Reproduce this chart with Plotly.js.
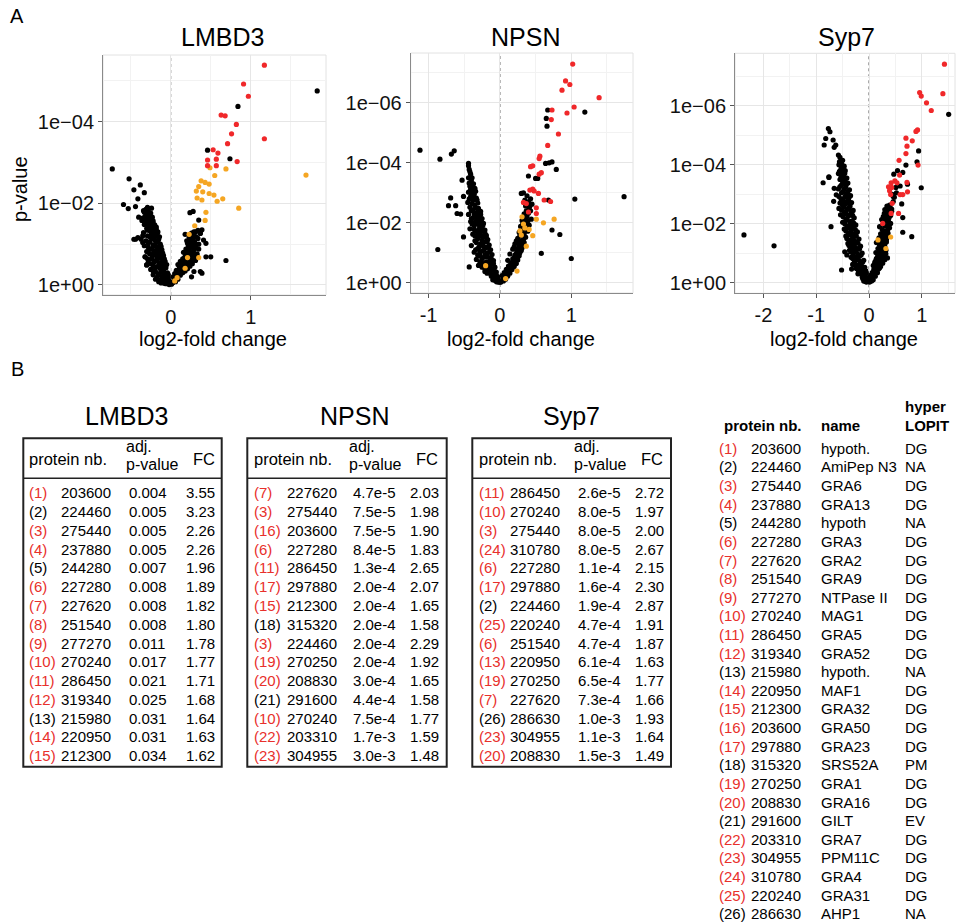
<!DOCTYPE html>
<html>
<head>
<meta charset="utf-8">
<script src="https://cdn.plot.ly/plotly-3.0.1.min.js"></script>
<style>html,body{margin:0;padding:0;background:#fff;}#chart{width:956px;height:923px;}</style>
</head>
<body>
<div id="chart"></div>
<script>
// ---------------- DATA: volcano plots (log2 fold change, -log10 p-value) ----------------
const lmbd3Red = [[1.17,5.38],[0.91,4.92],[0.97,4.62],[0.63,4.16],[0.68,4.14],[0.82,3.93],[0.76,3.70],[1.17,3.58],[0.71,3.46],[0.53,3.31],[0.59,3.23],[0.46,3.06],[0.57,3.08],[0.83,3.02],[0.46,2.92],[0.57,2.92]];
const lmbd3Orange = [[0.49,2.87],[0.69,2.84],[1.69,2.69],[0.55,2.68],[0.38,2.55],[0.43,2.51],[0.48,2.47],[0.35,2.41],[0.32,2.30],[0.40,2.28],[0.48,2.24],[0.33,2.13],[0.39,2.08],[0.54,2.20],[0.58,2.05],[0.65,2.11],[0.85,1.88],[0.44,1.78],[0.43,1.58],[0.30,1.45],[0.23,1.24],[0.21,0.67],[0.35,0.67],[0.18,0.41],[0.08,0.18],[0.05,0.10]];
const lmbd3Black = [[-0.73,2.84],[-0.52,2.60],[-0.46,2.33],[-0.38,2.45],[-0.33,2.26],[-0.41,2.11],[-0.59,1.97],[-0.53,1.87],[-0.44,1.92],[-0.46,1.12],[-0.32,0.69],[-0.30,0.49],[-0.40,1.66],[-0.36,1.58],[1.83,4.75],[0.84,4.37],[0.46,3.30],[0.74,3.09],[0.69,0.60],[0.44,0.69],[0.50,0.69],[0.24,1.77],[0.28,1.80],[0.35,1.59],[0.37,1.27],[0.41,1.10],[0.29,1.18],[0.39,0.29],[0.29,0.33],[0.44,1.02],[0.39,1.35],[0.37,0.33],[0.26,0.20],
[-0.31,1.85],[-0.28,1.80],[-0.30,1.75],[-0.26,1.72],[-0.32,1.68],[-0.27,1.65],[-0.24,1.62],[-0.30,1.60],[-0.22,1.57],[-0.28,1.55],[-0.25,1.50],[-0.33,1.48],[-0.20,1.47],[-0.27,1.44],[-0.23,1.40],[-0.30,1.38],[-0.18,1.36],[-0.26,1.33],[-0.21,1.30],[-0.34,1.28],[-0.24,1.25],[-0.17,1.24],[-0.29,1.20],[-0.20,1.18],[-0.37,1.12],[-0.44,1.12],[-0.23,1.14],[-0.15,1.12],[-0.31,1.08],[-0.26,1.06],[-0.18,1.04],[-0.13,1.00],[-0.22,0.98],[-0.33,0.96],[-0.28,0.93],[-0.16,0.92],[-0.24,0.88],[-0.11,0.86],[-0.19,0.84],[-0.30,0.82],[-0.14,0.80],[-0.26,0.76],[-0.21,0.74],[-0.09,0.72],[-0.17,0.70],[-0.32,0.69],[-0.12,0.66],[-0.24,0.64],[-0.19,0.60],[-0.07,0.58],[-0.28,0.56],[-0.15,0.55],[-0.10,0.50],[-0.22,0.48],[-0.30,0.49],[-0.17,0.45],[-0.06,0.42],[-0.13,0.40],[-0.25,0.38],[-0.09,0.35],[-0.19,0.33],[-0.04,0.30],[-0.14,0.28],[-0.22,0.25],[-0.08,0.24],[-0.11,0.20],[-0.17,0.18],[-0.03,0.18],[-0.06,0.14],[-0.13,0.12],[-0.02,0.10],[-0.09,0.08],[-0.04,0.05],[-0.01,0.03],[-0.06,0.03],[-0.15,0.08],[-0.34,1.82],[-0.24,1.88],
[-0.29,1.90],[-0.33,1.78],[-0.25,1.76],[-0.29,1.70],[-0.35,1.64],[-0.23,1.66],[-0.31,1.56],[-0.26,1.58],[-0.22,1.52],[-0.31,1.50],[-0.18,1.42],[-0.25,1.46],[-0.29,1.34],[-0.16,1.30],[-0.22,1.27],[-0.35,1.20],[-0.26,1.18],[-0.14,1.18],[-0.20,1.10],[-0.28,1.02],[-0.16,1.06],[-0.35,1.04],[-0.41,1.16],[-0.20,0.95],[-0.12,0.94],[-0.27,0.88],[-0.14,0.86],[-0.21,0.82],[-0.10,0.78],[-0.28,0.80],[-0.16,0.74],[-0.23,0.70],[-0.13,0.70],[-0.29,0.64],[-0.08,0.64],[-0.17,0.62],[-0.21,0.56],[-0.11,0.56],[-0.26,0.52],[-0.05,0.50],[-0.14,0.50],[-0.19,0.42],[-0.10,0.40],[-0.22,0.34],[-0.12,0.32],[-0.03,0.25],[-0.16,0.24],[-0.07,0.18],[-0.19,0.14],[-0.10,0.14],[-0.04,0.10],[-0.08,0.04],[-0.12,0.05],[-0.02,0.01],
[0.02,0.05],[0.04,0.10],[0.06,0.16],[0.03,0.20],[0.08,0.22],[0.05,0.28],[0.10,0.30],[0.13,0.34],[0.07,0.36],[0.16,0.38],[0.11,0.42],[0.19,0.44],[0.14,0.48],[0.09,0.50],[0.22,0.50],[0.17,0.54],[0.12,0.58],[0.25,0.56],[0.20,0.60],[0.15,0.64],[0.28,0.62],[0.23,0.67],[0.18,0.70],[0.30,0.71],[0.26,0.74],[0.21,0.78],[0.33,0.76],[0.16,0.80],[0.24,0.83],[0.29,0.86],[0.19,0.88],[0.35,0.88],[0.27,0.93],[0.22,0.96],[0.32,0.98],[0.25,1.03],[0.30,1.06],[0.20,1.08],[0.27,1.12],[0.34,1.14],[0.23,1.17],[0.29,1.21],[0.18,1.24],[0.26,1.27],[0.31,1.30],[0.37,1.26],
[0.01,0.02],[0.03,0.07],[0.06,0.08],[0.09,0.14],[0.05,0.19],[0.12,0.24],[0.08,0.28],[0.15,0.30],[0.18,0.34],[0.11,0.36],[0.21,0.40],[0.15,0.44],[0.24,0.46],[0.19,0.50],[0.27,0.52],[0.13,0.54],[0.23,0.58],[0.31,0.60],[0.17,0.66],[0.27,0.68],[0.21,0.72],[0.33,0.70],[0.28,0.80],[0.23,0.86],[0.31,0.90],[0.26,0.98],[0.35,1.00],[0.21,1.02],[0.29,1.02],[0.24,1.10],[0.32,1.18],[0.25,1.22],[0.29,1.30],[0.34,1.34]];

const npsnRed = [[1.02,7.29],[0.92,6.73],[0.98,6.61],[0.87,6.42],[1.39,6.17],[1.04,5.86],[0.73,5.76],[0.94,5.66],[0.72,5.44],[0.82,4.96],[0.67,4.58],[0.56,4.22],[0.55,4.14],[0.46,3.90],[0.43,3.87],[0.58,3.67],[0.55,3.62],[0.46,3.12],[0.48,3.06],[0.42,3.09],[0.33,2.68],[0.51,2.50],[0.71,2.71],[0.40,2.36],[0.51,2.31],[0.62,2.76],[0.54,2.98],[0.37,2.64]];
const npsnOrange = [[0.51,2.12],[0.61,2.00],[0.76,2.12],[0.31,2.20],[0.33,1.96],[0.41,1.78],[0.46,1.57],[0.37,1.22],[0.30,1.59],[-0.20,0.57],[0.08,0.14],[0.24,0.39],[0.35,1.83],[0.28,1.73]];
const npsnBlack = [[-1.12,4.42],[-0.84,4.12],[-0.68,4.29],[-0.64,4.40],[-0.44,3.98],[-0.44,3.90],[-0.53,3.42],[-0.69,2.83],[-0.51,2.88],[-0.72,2.57],[-0.62,2.57],[-0.60,2.31],[-0.55,2.29],[-0.87,1.11],[-0.43,0.53],[-0.51,1.53],[1.19,5.69],[0.67,5.76],[0.65,5.48],[0.66,5.22],[0.73,4.03],[0.69,4.00],[0.79,3.78],[0.64,3.98],[0.40,3.56],[0.53,3.48],[0.50,3.48],[1.74,2.87],[1.05,2.79],[0.68,2.76],[0.33,3.00],[0.73,1.76],[0.84,1.61],[0.58,0.98],[1.00,0.81],[0.38,2.64],[0.30,2.98],
[-0.43,3.78],[-0.41,3.62],[-0.44,3.50],[-0.40,3.40],[-0.37,3.30],[-0.42,3.22],[-0.35,3.15],[-0.39,3.08],[-0.44,3.02],[-0.36,2.95],[-0.41,2.88],[-0.33,2.82],[-0.38,2.74],[-0.45,2.68],[-0.31,2.66],[-0.35,2.58],[-0.42,2.52],[-0.30,2.48],[-0.38,2.43],[-0.27,2.38],[-0.34,2.33],[-0.44,2.28],[-0.29,2.24],[-0.37,2.18],[-0.25,2.14],[-0.32,2.08],[-0.41,2.04],[-0.23,1.98],[-0.30,1.94],[-0.36,1.90],[-0.26,1.85],[-0.42,1.80],[-0.21,1.76],[-0.33,1.72],[-0.28,1.66],[-0.38,1.62],[-0.19,1.58],[-0.24,1.54],[-0.31,1.48],[-0.17,1.44],[-0.35,1.40],[-0.22,1.36],[-0.27,1.30],[-0.15,1.26],[-0.40,1.24],[-0.20,1.18],[-0.31,1.14],[-0.13,1.10],[-0.25,1.06],[-0.36,1.02],[-0.18,0.98],[-0.11,0.94],[-0.28,0.90],[-0.22,0.86],[-0.14,0.82],[-0.33,0.78],[-0.09,0.74],[-0.19,0.70],[-0.25,0.66],[-0.12,0.62],[-0.30,0.58],[-0.16,0.55],[-0.07,0.52],[-0.21,0.48],[-0.10,0.44],[-0.14,0.38],[-0.05,0.36],[-0.18,0.32],[-0.08,0.28],[-0.12,0.22],[-0.03,0.20],[-0.06,0.14],[-0.10,0.10],[-0.02,0.07],[-0.04,0.03],
[-0.42,3.70],[-0.39,3.50],[-0.43,3.32],[-0.38,3.20],[-0.41,3.12],[-0.34,3.05],[-0.40,2.98],[-0.37,2.86],[-0.43,2.80],[-0.32,2.76],[-0.39,2.64],[-0.34,2.50],[-0.40,2.40],[-0.31,2.36],[-0.36,2.28],[-0.27,2.28],[-0.33,2.20],[-0.40,2.14],[-0.29,2.12],[-0.35,2.02],[-0.26,2.04],[-0.32,1.98],[-0.39,1.96],[-0.24,1.90],[-0.29,1.80],[-0.36,1.78],[-0.24,1.72],[-0.31,1.64],[-0.21,1.66],[-0.35,1.56],[-0.27,1.58],[-0.19,1.50],[-0.25,1.42],[-0.33,1.34],[-0.18,1.36],[-0.24,1.24],[-0.29,1.20],[-0.16,1.18],[-0.22,1.10],[-0.34,1.10],[-0.28,1.02],[-0.15,1.02],[-0.21,0.94],[-0.31,0.92],[-0.25,0.80],[-0.17,0.86],[-0.12,0.80],[-0.28,0.70],[-0.14,0.70],[-0.22,0.62],[-0.09,0.64],[-0.19,0.54],[-0.13,0.50],[-0.25,0.52],[-0.16,0.44],[-0.08,0.40],[-0.13,0.30],[-0.21,0.38],[-0.10,0.24],[-0.05,0.26],[-0.08,0.16],[-0.03,0.12],[-0.06,0.06],[-0.01,0.02],
[0.02,0.05],[0.04,0.12],[0.07,0.18],[0.03,0.24],[0.10,0.28],[0.06,0.34],[0.13,0.38],[0.09,0.45],[0.16,0.50],[0.12,0.56],[0.19,0.60],[0.15,0.66],[0.22,0.72],[0.11,0.75],[0.18,0.80],[0.25,0.85],[0.21,0.92],[0.14,0.96],[0.28,1.00],[0.24,1.06],[0.18,1.12],[0.31,1.16],[0.27,1.22],[0.21,1.30],[0.34,1.34],[0.29,1.40],[0.25,1.48],[0.36,1.52],[0.31,1.60],[0.27,1.68],[0.39,1.72],[0.33,1.80],[0.29,1.88],[0.41,1.92],[0.36,2.00],[0.31,2.08],[0.44,2.12],[0.38,2.20],[0.34,2.30],[0.43,2.40],[0.41,2.48],[0.36,2.56],[0.45,2.62],[0.43,2.80],[0.38,2.90],
[0.01,0.02],[0.05,0.06],[0.08,0.12],[0.05,0.18],[0.11,0.22],[0.08,0.30],[0.14,0.32],[0.11,0.40],[0.17,0.44],[0.13,0.50],[0.20,0.54],[0.16,0.60],[0.23,0.64],[0.18,0.72],[0.25,0.76],[0.20,0.84],[0.27,0.90],[0.23,0.98],[0.30,1.08],[0.25,1.14],[0.20,1.20],[0.32,1.26],[0.27,1.32],[0.23,1.40],[0.33,1.44],[0.28,1.56],[0.34,1.64],[0.30,1.74],[0.36,1.84],[0.32,1.96],[0.39,2.06],[0.35,2.14],[0.40,2.32],[0.37,2.40],[0.42,2.56],[0.40,2.70],[0.35,2.76]];

const syp7Red = [[1.43,7.41],[0.96,6.45],[0.99,6.33],[1.40,6.41],[1.09,6.10],[1.18,5.84],[0.92,5.18],[0.89,5.13],[0.70,4.90],[0.82,4.81],[0.72,4.63],[0.70,4.38],[0.57,4.15],[0.93,3.99],[0.58,3.65],[0.49,3.45],[0.53,3.39],[0.42,3.39],[0.37,3.25],[0.72,3.40],[0.43,3.23],[0.73,3.08],[0.39,3.12],[0.41,2.99],[0.59,2.99],[0.64,2.99],[0.44,2.69],[0.56,2.35],[0.42,2.35],[0.26,2.01]];
const syp7Orange = [[0.17,1.45],[0.41,1.55],[0.32,1.16]];
const syp7Black = [[-2.37,1.62],[-1.80,1.25],[1.51,5.71],[0.94,4.47],[0.91,4.10],[0.70,3.99],[0.64,3.74],[0.54,3.80],[0.47,3.68],[0.73,3.34],[0.59,3.28],[0.51,3.23],[0.99,3.22],[0.46,2.92],[0.62,2.67],[0.34,2.60],[0.39,2.63],[0.29,2.35],[0.34,2.26],[0.43,2.42],[0.64,2.21],[0.30,2.10],[0.41,2.01],[0.27,1.99],[0.64,1.71],[0.81,1.56],[-0.72,1.90],[-0.87,3.39],[-0.76,3.57],[-0.77,5.23],[-0.74,5.12],[-0.82,4.89],[-0.85,4.67],[-0.68,4.84],[-0.63,4.67],[-0.66,4.59],[-0.58,4.33],[-0.52,4.05],[-0.52,3.76],[-0.49,3.59],[-0.76,3.59],[-0.66,3.20],[-0.52,0.43],[-0.33,0.46],[-0.46,1.05],[-0.42,0.94],
[-0.55,4.25],[-0.50,4.15],[-0.57,4.00],[-0.47,3.95],[-0.53,3.88],[-0.45,3.80],[-0.58,3.70],[-0.50,3.65],[-0.42,3.55],[-0.55,3.50],[-0.47,3.45],[-0.40,3.38],[-0.52,3.32],[-0.44,3.25],[-0.58,3.18],[-0.37,3.15],[-0.49,3.10],[-0.41,3.03],[-0.62,2.98],[-0.35,2.95],[-0.46,2.90],[-0.53,2.84],[-0.39,2.80],[-0.67,2.76],[-0.33,2.72],[-0.44,2.68],[-0.50,2.62],[-0.36,2.58],[-0.57,2.52],[-0.41,2.48],[-0.30,2.45],[-0.47,2.40],[-0.34,2.35],[-0.54,2.30],[-0.39,2.26],[-0.28,2.20],[-0.44,2.16],[-0.32,2.10],[-0.50,2.05],[-0.36,2.00],[-0.25,1.96],[-0.42,1.92],[-0.30,1.86],[-0.47,1.82],[-0.34,1.77],[-0.22,1.72],[-0.39,1.68],[-0.27,1.62],[-0.44,1.58],[-0.31,1.53],[-0.19,1.48],[-0.36,1.44],[-0.24,1.38],[-0.40,1.33],[-0.28,1.28],[-0.16,1.24],[-0.33,1.20],[-0.21,1.14],[-0.37,1.10],[-0.25,1.04],[-0.13,1.00],[-0.30,0.96],[-0.18,0.90],[-0.34,0.86],[-0.22,0.80],[-0.10,0.76],[-0.27,0.72],[-0.15,0.66],[-0.31,0.62],[-0.19,0.56],[-0.08,0.52],[-0.24,0.48],[-0.12,0.42],[-0.16,0.36],[-0.05,0.33],[-0.21,0.30],[-0.09,0.26],[-0.13,0.20],[-0.03,0.17],[-0.07,0.11],[-0.10,0.06],[-0.02,0.05],[-0.05,0.02],
[-0.56,4.10],[-0.52,3.98],[-0.49,3.85],[-0.56,3.78],[-0.46,3.70],[-0.53,3.58],[-0.45,3.50],[-0.50,3.42],[-0.43,3.34],[-0.55,3.26],[-0.47,3.18],[-0.40,3.10],[-0.52,3.05],[-0.44,2.98],[-0.57,2.92],[-0.38,2.88],[-0.49,2.78],[-0.42,2.74],[-0.55,2.70],[-0.36,2.66],[-0.47,2.56],[-0.39,2.52],[-0.52,2.46],[-0.33,2.42],[-0.44,2.34],[-0.37,2.30],[-0.49,2.24],[-0.31,2.28],[-0.41,2.12],[-0.35,2.06],[-0.46,2.00],[-0.29,2.02],[-0.39,1.86],[-0.33,1.90],[-0.44,1.76],[-0.26,1.80],[-0.37,1.62],[-0.30,1.66],[-0.42,1.50],[-0.24,1.58],[-0.34,1.40],[-0.28,1.44],[-0.21,1.34],[-0.38,1.26],[-0.31,1.30],[-0.25,1.18],[-0.18,1.14],[-0.34,1.04],[-0.28,1.10],[-0.21,0.96],[-0.15,0.94],[-0.31,0.82],[-0.25,0.86],[-0.18,0.74],[-0.12,0.70],[-0.28,0.68],[-0.21,0.60],[-0.14,0.56],[-0.25,0.54],[-0.18,0.42],[-0.10,0.44],[-0.15,0.30],[-0.20,0.36],[-0.06,0.40],[-0.11,0.32],[-0.08,0.20],[-0.12,0.14],[-0.04,0.08],[-0.07,0.04],[-0.02,0.12],
[0.02,0.05],[0.04,0.12],[0.07,0.18],[0.03,0.25],[0.10,0.28],[0.06,0.34],[0.14,0.38],[0.09,0.44],[0.18,0.46],[0.12,0.52],[0.22,0.55],[0.08,0.58],[0.16,0.62],[0.26,0.66],[0.11,0.70],[0.20,0.74],[0.30,0.78],[0.14,0.82],[0.24,0.86],[0.35,0.84],[0.18,0.92],[0.28,0.96],[0.13,1.02],[0.22,1.06],[0.32,1.10],[0.17,1.16],[0.26,1.20],[0.20,1.28],[0.30,1.32],[0.14,1.36],[0.24,1.42],[0.33,1.46],[0.19,1.52],[0.28,1.58],[0.22,1.66],[0.36,1.68],[0.31,1.74],[0.25,1.80],[0.39,1.86],[0.20,1.90],[0.34,1.94],[0.28,2.02],[0.37,2.08],[0.24,2.14],[0.32,2.20],[0.41,2.28],[0.36,2.40],[0.30,2.48],[0.40,2.55],[0.46,2.75],[0.52,3.05],[0.44,3.00],
[0.01,0.02],[0.05,0.06],[0.08,0.10],[0.05,0.20],[0.12,0.22],[0.09,0.32],[0.16,0.34],[0.12,0.40],[0.20,0.50],[0.15,0.50],[0.10,0.62],[0.19,0.66],[0.24,0.70],[0.13,0.76],[0.22,0.80],[0.28,0.86],[0.16,0.88],[0.25,0.92],[0.32,0.98],[0.19,1.00],[0.28,1.08],[0.22,1.12],[0.30,1.22],[0.24,1.30],[0.33,1.38],[0.18,1.44],[0.27,1.50],[0.35,1.56],[0.24,1.60],[0.31,1.66],[0.27,1.74],[0.35,1.78],[0.30,1.92],[0.38,1.98],[0.33,2.12],[0.27,2.24],[0.38,2.20],[0.34,2.50],[0.43,2.50],[0.48,2.90]];

const plotTitles = ['LMBD3','NPSN','Syp7'];
const yTickVals = [0,2,4,6];
const yTickText = ['1e+00','1e\u221202','1e\u221204','1e\u221206'];

// ---------------- DATA: tables ----------------
const lmbd3Num = [1,2,3,4,5,6,7,8,9,10,11,12,13,14,15];
const lmbd3Id = ['203600','224460','275440','237880','244280','227280','227620','251540','277270','270240','286450','319340','215980','220950','212300'];
const lmbd3P = ['0.004','0.005','0.005','0.005','0.007','0.008','0.008','0.008','0.011','0.017','0.021','0.025','0.031','0.031','0.034'];
const lmbd3FC = ['3.55','3.23','2.26','2.26','1.96','1.89','1.82','1.80','1.78','1.77','1.71','1.68','1.64','1.63','1.62'];

const npsnNum = [7,3,16,6,11,17,15,18,3,19,20,21,10,22,23];
const npsnId = ['227620','275440','203600','227280','286450','297880','212300','315320','224460','270250','208830','291600','270240','203310','304955'];
const npsnP = ['4.7e-5','7.5e-5','7.5e-5','8.4e-5','1.3e-4','2.0e-4','2.0e-4','2.0e-4','2.0e-4','2.0e-4','3.0e-4','4.4e-4','7.5e-4','1.7e-3','3.0e-3'];
const npsnFC = ['2.03','1.98','1.90','1.83','2.65','2.07','1.65','1.58','2.29','1.92','1.65','1.58','1.77','1.59','1.48'];

const syp7Num = [11,10,3,24,6,17,2,25,6,13,19,7,26,23,20];
const syp7Id = ['286450','270240','275440','310780','227280','297880','224460','220240','251540','220950','270250','227620','286630','304955','208830'];
const syp7P = ['2.6e-5','8.0e-5','8.0e-5','8.0e-5','1.1e-4','1.6e-4','1.9e-4','4.7e-4','4.7e-4','6.1e-4','6.5e-4','7.3e-4','1.0e-3','1.1e-3','1.5e-3'];
const syp7FC = ['2.72','1.97','2.00','2.67','2.15','2.30','2.87','1.91','1.87','1.63','1.77','1.66','1.93','1.64','1.49'];

const keyId = ['203600','224460','275440','237880','244280','227280','227620','251540','277270','270240','286450','319340','215980','220950','212300','203600','297880','315320','270250','208830','291600','203310','304955','310780','220240','286630'];
const keyName = ['hypoth.','AmiPep N3','GRA6','GRA13','hypoth','GRA3','GRA2','GRA9','NTPase II','MAG1','GRA5','GRA52','hypoth.','MAF1','GRA32','GRA50','GRA23','SRS52A','GRA1','GRA16','GILT','GRA7','PPM11C','GRA4','GRA31','AHP1'];
const keyLopit = ['DG','NA','DG','DG','NA','DG','DG','DG','DG','DG','DG','DG','NA','DG','DG','DG','DG','PM','DG','DG','EV','DG','DG','DG','DG','NA'];

// ---------------- LAYOUT ----------------
const W = 956, H = 923;
const FONT = '"Liberation Sans", Arial, Helvetica, sans-serif';
const RED = '#F0282A', ORANGE = '#F5A623', BLACK = '#000000', TRED = '#E8302B';
const px = v => v / W;
const py = v => 1 - v / H;

const panels = [
  {black: lmbd3Black, orange: lmbd3Orange, red: lmbd3Red, x0: 103, x1: 326, y0: 55, y1: 295, xr: [-0.846, 1.94], yr: [-0.245, 5.63], xt: [0, 1], xtt: ['0','1'], xm: [-0.5, 0.5, 1.5], nY: 3, titleX: 222, axX: 212.5},
  {black: npsnBlack, orange: npsnOrange, red: npsnRed, x0: 410.7, x1: 633, y0: 53, y1: 293, xr: [-1.25, 1.865], yr: [-0.34, 7.66], xt: [-1, 0, 1], xtt: ['-1','0','1'], xm: [-0.5, 0.5, 1.5], nY: 4, titleX: 525, axX: 520.5},
  {black: syp7Black, orange: syp7Orange, red: syp7Red, x0: 735, x1: 955, y0: 53.3, y1: 293.3, xr: [-2.54, 1.63], yr: [-0.36, 7.78], xt: [-2, -1, 0, 1], xtt: ['-2','-1','0','1'], xm: [-1.5, -0.5, 0.5, 1.5], nY: 4, titleX: 846, axX: 844}
];

const traces = [];
const layout = {
  width: W, height: H, margin: {l: 0, r: 0, t: 0, b: 0},
  paper_bgcolor: '#fff', plot_bgcolor: '#fff', showlegend: false,
  font: {family: FONT, color: '#000'},
  annotations: [], shapes: []
};
const ann = (x, y, text, size, xanchor, color, extra) => layout.annotations.push(Object.assign({
  xref: 'paper', yref: 'paper', x: px(x), y: py(y), text: text, showarrow: false,
  xanchor: xanchor || 'center', yanchor: 'middle', borderpad: 0,
  font: {family: FONT, size: size, color: color || '#000'}
}, extra || {}));

panels.forEach((p, i) => {
  const s = i === 0 ? '' : String(i + 1);
  const xa = 'x' + s, ya = 'y' + s;
  [[p.black, BLACK], [p.orange, ORANGE], [p.red, RED]].forEach(([pts, col]) => {
    traces.push({type: 'scatter', mode: 'markers', xaxis: xa, yaxis: ya,
      x: pts.map(d => d[0]), y: pts.map(d => d[1]),
      marker: {color: col, size: 5.2, line: {width: 0}}, hoverinfo: 'skip'});
  });
  const minorY = [1, 3, 5, 7].slice(0, p.nY);
  layout['xaxis' + s] = {
    domain: [px(p.x0), px(p.x1)], range: p.xr, anchor: ya,
    tickmode: 'array', tickvals: p.xt, ticktext: p.xtt,
    showgrid: true, gridcolor: '#E6E6E6', gridwidth: 1, zeroline: false,
    minor: {tickmode: 'array', tickvals: p.xm, showgrid: true, gridcolor: '#F2F2F2', gridwidth: 1, ticklen: 0},
    showline: true, linecolor: '#8A8A8A', linewidth: 1,
    ticks: 'outside', ticklen: 4, tickcolor: '#555', tickwidth: 1,
    tickfont: {family: FONT, size: 20, color: '#111'}, fixedrange: true
  };
  layout['yaxis' + s] = {
    domain: [py(p.y1), py(p.y0)], range: p.yr, anchor: xa,
    tickmode: 'array', tickvals: yTickVals.slice(0, p.nY), ticktext: yTickText.slice(0, p.nY),
    showgrid: true, gridcolor: '#E6E6E6', gridwidth: 1, zeroline: false,
    minor: {tickmode: 'array', tickvals: minorY, showgrid: true, gridcolor: '#F2F2F2', gridwidth: 1, ticklen: 0},
    showline: true, linecolor: '#8A8A8A', linewidth: 1,
    ticks: 'outside', ticklen: 4, tickcolor: '#555', tickwidth: 1,
    tickfont: {family: FONT, size: 20, color: '#111'}, fixedrange: true
  };
  layout.shapes.push({type: 'rect', xref: xa + ' domain', yref: ya + ' domain', x0: 0, x1: 1, y0: 0, y1: 1,
    line: {color: '#E2E2E2', width: 1}, layer: 'below'});
  layout.shapes.push({type: 'line', xref: xa, yref: ya + ' domain', x0: 0, x1: 0, y0: 0, y1: 1,
    line: {color: '#555', width: 1, dash: 'dot'}, layer: 'below'});
  ann(p.titleX, 37.5, plotTitles[i], 25);
  ann(p.axX, 339, 'log2-fold change', 20);
});
ann(20, 189, 'p-value', 20, 'center', '#000', {textangle: -90});
ann(17, 16, 'A', 20);
ann(17, 369, 'B', 20);

// ---------------- TABLES ----------------
const dgById = id => { const k = keyId.indexOf(id); return k >= 0 && keyLopit[k] === 'DG'; };
const isRed = (n, id) => keyLopit[n - 1] === 'DG' || dgById(id);

const tables = [
  {title: 'LMBD3', num: lmbd3Num, id: lmbd3Id, p: lmbd3P, fc: lmbd3FC, L: 23.3, R: 221.7, tx: 126.7, hx: 28.3, ax: 125, fx: 191.7, nx: 28.3, idR: 111.5, pL: 128.3, fcR: 215.5},
  {title: 'NPSN', num: npsnNum, id: npsnId, p: npsnP, fc: npsnFC, L: 247.3, R: 446.7, tx: 354, hx: 252.7, ax: 348, fx: 415, nx: 253.3, idR: 337.5, pL: 351.7, fcR: 439.8},
  {title: 'Syp7', num: syp7Num, id: syp7Id, p: syp7P, fc: syp7FC, L: 472.3, R: 671, tx: 571, hx: 477.7, ax: 573, fx: 640, nx: 478.3, idR: 561.3, pL: 576.7, fcR: 664.8}
];
const tTop = 438.3, tBot = 766.7, tSep = 478.3, row0 = 492.7, rowH = 18.79;
tables.forEach(t => {
  ann(t.tx, 416, t.title, 25);
  layout.shapes.push({type: 'rect', xref: 'paper', yref: 'paper', x0: px(t.L), x1: px(t.R), y0: py(tBot), y1: py(tTop), line: {color: '#222', width: 2}});
  layout.shapes.push({type: 'line', xref: 'paper', yref: 'paper', x0: px(t.L), x1: px(t.R), y0: py(tSep), y1: py(tSep), line: {color: '#222', width: 1.5}});
  ann(t.hx, 458.5, 'protein nb.', 16.5, 'left');
  ann(t.ax, 455.6, 'adj.', 16, 'left', '#000', {yanchor: 'bottom'});
  ann(t.ax, 455.4, 'p-value', 16, 'left', '#000', {yanchor: 'top'});
  ann(t.fx, 459, 'FC', 16.5, 'left');
  t.num.forEach((n, r) => {
    const y = row0 + r * rowH;
    ann(t.nx, y, '(' + n + ')', 15, 'left', isRed(n, t.id[r]) ? TRED : '#000');
    ann(t.idR, y, t.id[r], 15, 'right');
    ann(t.pL, y, t.p[r], 15, 'left');
    ann(t.fcR, y, t.fc[r], 15, 'right');
  });
});

// key table
ann(722.7, 425, '<b>protein nb.</b>', 15, 'left');
ann(820, 425, '<b>name</b>', 15, 'left');
ann(903.5, 406.5, '<b>hyper</b>', 15, 'left');
ann(903.5, 425, '<b>LOPIT</b>', 15, 'left');
keyId.forEach((id, r) => {
  const y = 448.3 + r * 18.62;
  ann(718.3, y, '(' + (r + 1) + ')', 15, 'left', keyLopit[r] === 'DG' ? TRED : '#000');
  ann(801.5, y, id, 15, 'right');
  ann(819.5, y, keyName[r], 15, 'left');
  ann(904, y, keyLopit[r], 15, 'left');
});

Plotly.newPlot('chart', traces, layout, {staticPlot: true, displayModeBar: false});
</script>
</body>
</html>
